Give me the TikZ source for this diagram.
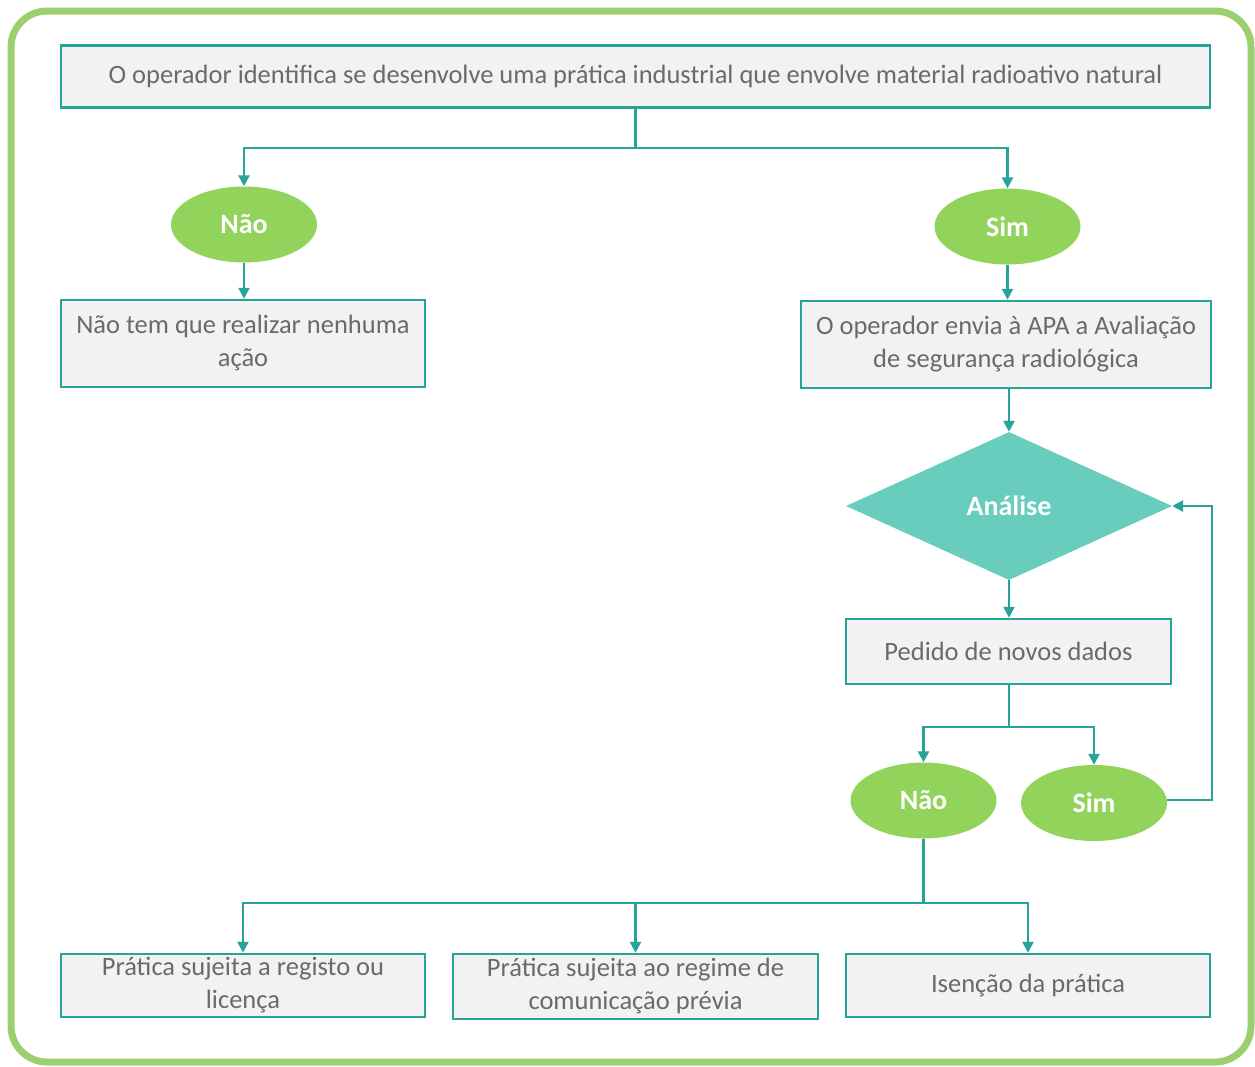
\documentclass[tikz,border=0pt]{standalone}
\usepackage{fontspec}
\setmainfont{Carlito}
\usetikzlibrary{shapes.geometric,arrows.meta}
\definecolor{tealc}{HTML}{27A399}
\definecolor{boxfill}{HTML}{F2F2F2}
\definecolor{txtc}{HTML}{6A6A6A}
\definecolor{ovalc}{HTML}{92D35C}
\definecolor{diamc}{HTML}{68CDBC}
\definecolor{framec}{HTML}{9BCF70}
\tikzset{
  box/.style={draw=tealc, line width=2.5pt, fill=boxfill, text=txtc, align=center,
    inner sep=0pt, font=\fontsize{26.5}{33}\selectfont},
  oval/.style={ellipse, fill=ovalc, text=white, inner sep=0pt,
    minimum width=146pt, minimum height=76pt, font=\fontsize{28}{30}\selectfont\bfseries},
  conn/.style={draw=tealc, line width=2.5pt, -{Triangle[length=11pt,width=11pt]}},
  line/.style={draw=tealc, line width=2.5pt},
}
\begin{document}
\begin{tikzpicture}[x=1pt,y=-1pt]
\useasboundingbox (0,0) rectangle (1255,1066);
\draw[framec, line width=7pt, rounded corners=36pt] (11,11) rectangle (1251,1062);

\node[box, minimum width=1149pt, minimum height=62pt] (top) at (635.5,76.5) {O operador identifica se desenvolve uma prática industrial que envolve material radioativo natural};

\node[oval] (nao1) at (244,224.5) {Não};
\node[oval] (sim1) at (1007.5,226.5) {Sim};

\node[box, minimum width=364pt, minimum height=87pt] (nada) at (243,343.5) {Não tem que realizar nenhuma\\ação};
\node[box, minimum width=410pt, minimum height=87pt] (envia) at (1006,344.5) {O operador envia à APA a Avaliação\\de segurança radiológica};

\node[diamond, fill=diamc, text=white, inner sep=0pt, minimum width=326pt, minimum height=148pt,
  font=\fontsize{28}{30}\selectfont\bfseries] (anal) at (1009,506) {Análise};

\node[box, minimum width=325pt, minimum height=65pt] (pedido) at (1008.5,651.5) {Pedido de novos dados};

\node[oval] (nao2) at (923.5,800.5) {Não};
\node[oval] (sim2) at (1094,803) {Sim};

\node[box, minimum width=364pt, minimum height=63pt] (reg) at (243,985.5) {Prática sujeita a registo ou\\licença};
\node[box, minimum width=365pt, minimum height=65pt] (com) at (635.5,986.5) {Prática sujeita ao regime de\\comunicação prévia};
\node[box, minimum width=364pt, minimum height=63pt] (ise) at (1028,985.5) {Isenção da prática};

\coordinate (j1) at (635.5,148);
\draw[line] (top.south) -- (j1);
\draw[conn] (j1) -| (nao1.north);
\draw[conn] (j1) -| (sim1.north);
\draw[conn] (nao1.south) -- (nada.north -| nao1.south);
\draw[conn] (sim1.south) -- (envia.north -| sim1.south);
\draw[conn] (envia.south -| anal.north) -- (anal.north);
\draw[conn] (anal.south) -- (pedido.north -| anal.south);

\coordinate (j2) at (1009,727);
\draw[line] (pedido.south -| j2) -- (j2);
\draw[conn] (j2) -| (nao2.north);
\draw[conn] (j2) -| (sim2.north);

\coordinate (lp) at (1212,800);
\draw[conn] (sim2.east |- lp) -- (lp) |- (anal.east);

\coordinate (j3) at (923.5,903);
\draw[line] (nao2.south) -- (j3);
\draw[conn] (j3) -| (reg.north);
\draw[conn] (j3) -| (com.north);
\draw[conn] (j3) -| (ise.north);
\end{tikzpicture}
\end{document}
